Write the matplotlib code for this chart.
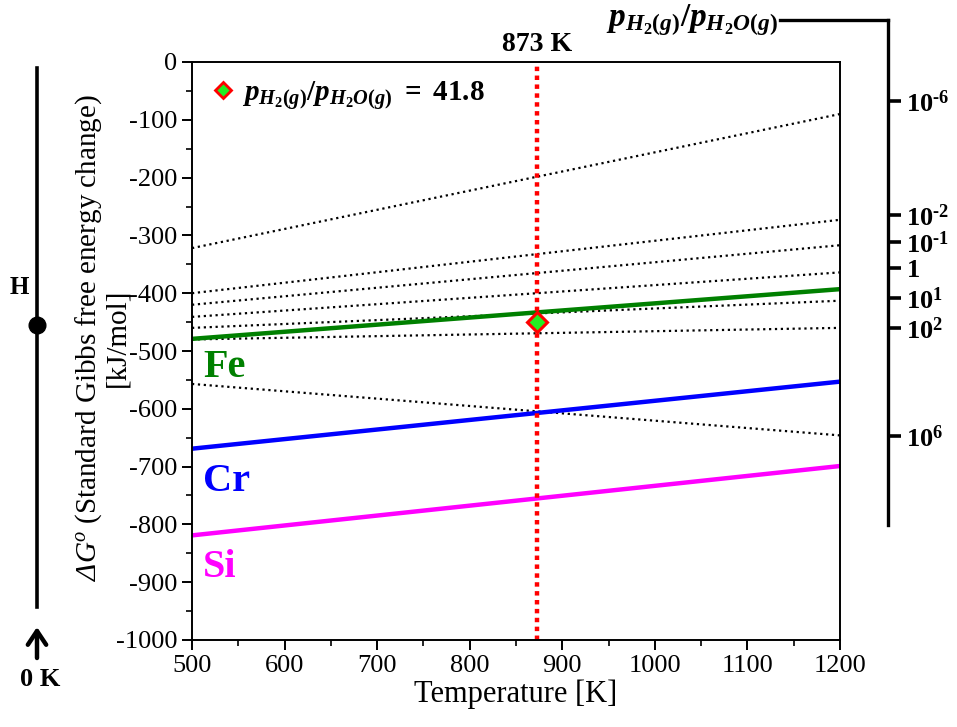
import numpy as np
import matplotlib
matplotlib.use('Agg')
import matplotlib.pyplot as plt
from matplotlib.lines import Line2D
from matplotlib.ticker import MultipleLocator

plt.rcParams['font.family'] = 'Liberation Serif'
plt.rcParams['axes.unicode_minus'] = False
plt.rcParams['mathtext.fontset'] = 'custom'
plt.rcParams['mathtext.rm'] = 'Liberation Serif:bold'
plt.rcParams['mathtext.bf'] = 'Liberation Serif:bold'
plt.rcParams['mathtext.it'] = 'Liberation Serif:bold:italic'
plt.rcParams['mathtext.sf'] = 'Liberation Serif:italic'

# temperature range [K]
T = [500, 1200]

# H2/H2O equilibrium lines (dotted), dG at 500 K and 1200 K
ratio_lines = [
    [-322, -90],    # 1e-6
    [-400, -273],   # 1e-2
    [-420, -317],   # 1e-1
    [-441, -364],   # 1
    [-460, -413],   # 1e1
    [-480, -460],   # 1e2
    [-557, -646],   # 1e6
]

# oxides
fe_dG = [-479, -393]
cr_dG = [-669, -553]
si_dG = [-819, -699]

T_op = 873
ratio_point = -450

# right hand pH2/pH2O scale
ratio_tick_pos = [-68, -265, -311, -357, -408, -460, -647]
ratio_tick_lbl = [r'$10^{\text{-}6}$', r'$10^{\text{-}2}$', r'$10^{\text{-}1}$', r'$1$',
                  r'$10^{1}$', r'$10^{2}$', r'$10^{6}$']

W, H = 957, 727
fig = plt.figure(figsize=(W / 100, H / 100), dpi=100)
ax = fig.add_axes([192 / W, 1 - 640 / H, 648 / W, 578 / H])

for vals in ratio_lines:
    ax.plot(T, vals, color='black', linestyle=':', lw=1.6)

ax.plot(T, fe_dG, color='#008000', lw=3.2)
ax.plot(T, cr_dG, color='#0000ff', lw=3.2)
ax.plot(T, si_dG, color='#ff00ff', lw=3.2)

ax.axvline(T_op, color='red', lw=3.2, linestyle=(0, (1, 1)))
ax.plot([T_op], [ratio_point], marker='D', markersize=10,
        markerfacecolor='#22ee22', markeredgecolor='red', markeredgewidth=2.2,
        linestyle='none', zorder=5)

ax.text(512, -529, 'Fe', color='#008000', fontsize=29, fontweight='bold', va='center')
ax.text(512, -725, 'Cr', color='#0000ff', fontsize=29, fontweight='bold', va='center')
ax.text(512, -874, 'Si', color='#ff00ff', fontsize=29, fontweight='bold', va='center')

ax.text(T_op, 1.03, '873 K', transform=ax.get_xaxis_transform(), ha='center',
        va='center', fontsize=20, fontweight='bold')

leg_handle = Line2D([], [], marker='D', markersize=8, markerfacecolor='#22ee22',
                    markeredgecolor='red', markeredgewidth=2, linestyle='none')
ax.legend([leg_handle], [r'$p_{H_2(g)}/p_{H_2O(g)}\ =\ 41.8$'], loc='upper left',
          frameon=False, fontsize=21, handletextpad=0.2, borderaxespad=0.2,
          handlelength=0.9)

ax.set_xlim(500, 1200)
ax.set_ylim(-1000, 0)
ax.xaxis.set_major_locator(MultipleLocator(100))
ax.xaxis.set_minor_locator(MultipleLocator(50))
ax.yaxis.set_major_locator(MultipleLocator(100))
ax.yaxis.set_minor_locator(MultipleLocator(50))
ax.tick_params(which='major', direction='out', length=7, width=1.4, labelsize=19)
ax.tick_params(which='minor', direction='out', length=4, width=1.2)
for s in ax.spines.values():
    s.set_linewidth(1.4)

ax.set_xlabel('Temperature [K]', fontsize=22, labelpad=2)
fig.text(102 / W, 1 - 338 / H,
         r'$\mathsf{\Delta G^{o}}$ (Standard Gibbs free energy change)' + '\n[kJ/mol]',
         rotation=90, ha='center', va='center', fontsize=21, multialignment='center',
         linespacing=1.05)

# right bracket scale
top_val = 1000 * (620 / 578) - 1000
ax2 = fig.add_axes([780 / W, 1 - 640 / H, 108 / W, 620 / H])
ax2.set_ylim(-1000, top_val)
ax2.set_xlim(0, 1)
ax2.patch.set_visible(False)
ax2.spines['left'].set_visible(False)
ax2.spines['bottom'].set_visible(False)
ax2.spines['right'].set_bounds(-801, top_val)
ax2.spines['right'].set_linewidth(2.4)
ax2.spines['top'].set_linewidth(2.4)
ax2.set_xticks([])
ax2.yaxis.tick_right()
ax2.set_yticks(ratio_tick_pos)
ax2.set_yticklabels(ratio_tick_lbl)
ax2.tick_params(axis='y', direction='out', length=9, width=2.6, labelsize=19, pad=4)
fig.text(778 / W, 1 - 20 / H, r'$p_{H_2(g)}/p_{H_2O(g)}$', ha='right', va='center',
         fontsize=24)

# left H / 0 K scale
fig.add_artist(Line2D([37 / W, 37 / W], [1 - 68 / H, 1 - 607 / H], color='black', lw=2.6))
fig.add_artist(Line2D([37 / W], [1 - 325 / H], marker='o', markersize=12, color='black'))
fig.text(19 / W, 1 - 287 / H, 'H', ha='center', va='center', fontsize=18, fontweight='bold')
fig.add_artist(plt.Annotation('', xy=(37 / W, 1 - 627 / H), xytext=(37 / W, 1 - 658 / H),
                              xycoords='figure fraction', textcoords='figure fraction',
                              arrowprops=dict(arrowstyle='->,head_length=0.45,head_width=0.3',
                                              lw=3.2, color='black', mutation_scale=22,
                                              shrinkA=0, shrinkB=0)))
fig.text(40 / W, 1 - 680 / H, '0 K', ha='center', va='center', fontsize=19, fontweight='bold')

fig.savefig('out.png', dpi=100)
